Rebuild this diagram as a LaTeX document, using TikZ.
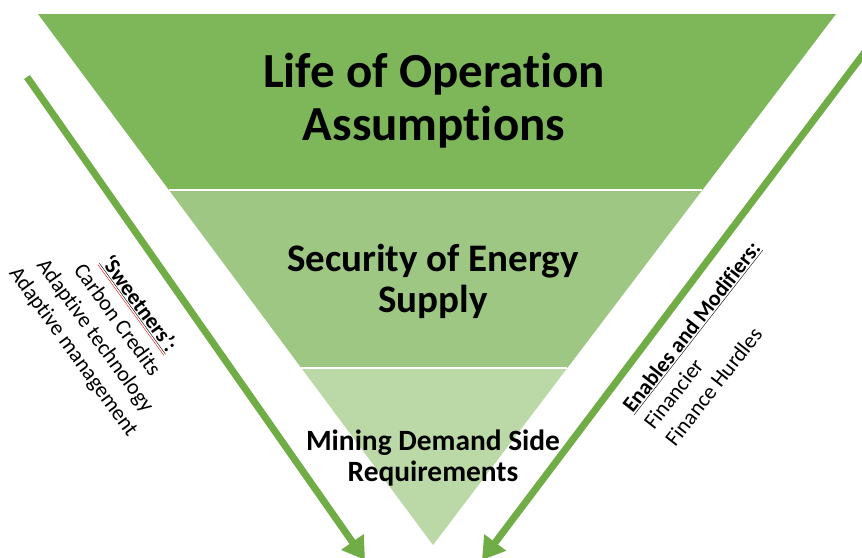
\documentclass[tikz,border=0pt]{standalone}
\usepackage{fontspec}
\setmainfont{Carlito}[Ligatures={NoCommon}]
\usetikzlibrary{arrows.meta,calc}
\definecolor{bandA}{HTML}{7EB65A}
\definecolor{bandB}{HTML}{9DC783}
\definecolor{bandC}{HTML}{BBD9A6}
\definecolor{arrowgreen}{HTML}{70AD47}
\tikzset{
  bigarrow/.style={draw=arrowgreen, line width=7pt, -{Triangle[width=26pt,length=22pt]}, fill=arrowgreen},
  sep/.style={draw=white, line width=2.5pt},
  sidetext/.style={font=\fontsize{22}{27}\selectfont, inner sep=0pt},
}
\begin{document}
\begin{tikzpicture}[x=1pt,y=-1pt]
\useasboundingbox (0,0) rectangle (862,557);
\clip (0,0) rectangle (862,557);
\coordinate (TL) at (38,14);
\coordinate (TR) at (836,14);
\coordinate (AP) at (433,545);
\coordinate (L1) at ($(TL)!0.3315!(AP)$);
\coordinate (R1) at ($(TR)!0.3315!(AP)$);
\coordinate (L2) at ($(TL)!0.6667!(AP)$);
\coordinate (R2) at ($(TR)!0.6667!(AP)$);
\fill[bandC] (L2) -- (R2) -- (AP) -- cycle;
\fill[bandB] (L1) -- (R1) -- (R2) -- (L2) -- cycle;
\fill[bandA] (TL) -- (TR) -- (R1) -- (L1) -- cycle;
\draw[sep] (L1) -- (R1);
\draw[sep] (L2) -- (R2);
\node[font=\bfseries\fontsize{49}{53}\selectfont, align=center] (t1) at (434,101) {Life of Operation\\Assumptions};
\node[font=\bfseries\fontsize{39}{41}\selectfont, align=center] (t2) at (433,281) {Security of Energy\\Supply};
\node[font=\bfseries\fontsize{29.4}{30.5}\selectfont, align=center] (t3) at (433,458) {Mining Demand Side\\Requirements};
% arrows
\coordinate (la) at (27,77);
\coordinate (lb) at (365,560);
\coordinate (ra) at (868,48);
\coordinate (rb) at (482,560);
\draw[bigarrow] (la) -- (lb);
\draw[bigarrow] (ra) -- (rb);
% side texts
\node[sidetext, align=center, rotate=-54] (sw) at (106,328)
  {\textcolor{red}{\underline{\textcolor{black}{\underline{\textbf{‘Sweetners’:}}}}}\\Carbon Credits\\Adaptive technology\\Adaptive management};
\node[sidetext, align=left, rotate=52, anchor=west] (em) at (648,426)
  {\underline{\textbf{Enables and Modifiers:}}\\Financier\\Finance Hurdles};
\end{tikzpicture}
\end{document}
